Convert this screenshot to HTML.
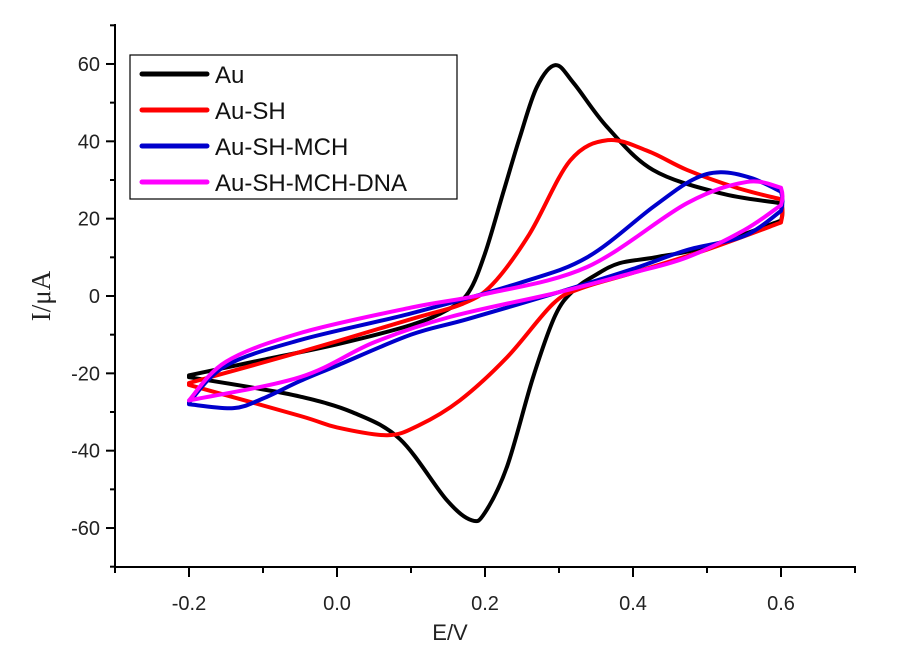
<!DOCTYPE html>
<html><head><meta charset="utf-8"><style>
body{margin:0;background:#fff;}
svg{display:block;}
text{font-family:"Liberation Sans",sans-serif;}
</style></head><body>
<svg id="s" width="900" height="647" viewBox="0 0 900 647" xmlns="http://www.w3.org/2000/svg">
<g id="curves" fill="none" stroke-width="4" stroke-linejoin="round" stroke-linecap="round"></g>
<g stroke="#000" stroke-width="2" fill="none">
<line x1="115" y1="24" x2="115" y2="568"/>
<line x1="114" y1="567" x2="856" y2="567"/>
</g>
<g id="ticks" stroke="#000" stroke-width="2"></g>
<g id="labels" font-size="20" fill="#222"></g>
<rect x="130" y="55" width="327" height="144" fill="#fff" stroke="#000" stroke-width="1.2"/>
<g stroke-width="5" stroke-linecap="round">
<line x1="142" y1="74" x2="207" y2="74" stroke="#000"/>
<line x1="142" y1="110" x2="207" y2="110" stroke="#f00"/>
<line x1="142" y1="146" x2="207" y2="146" stroke="#00c"/>
<line x1="142" y1="182" x2="207" y2="182" stroke="#f0f"/>
</g>
<g font-size="24" fill="#111">
<text x="215" y="83">Au</text>
<text x="215" y="119">Au-SH</text>
<text x="215" y="155">Au-SH-MCH</text>
<text x="215" y="191">Au-SH-MCH-DNA</text>
</g>
<text x="450" y="640" font-size="22" text-anchor="middle" fill="#222">E/V</text>
<text transform="translate(50,296) rotate(-90)" font-size="27" text-anchor="middle" fill="#222" style="font-family:'Liberation Serif',serif">I/μA</text>
</svg>
<script>
var X=function(e){return 337+e*740;},Y=function(i){return 296-i*3.867;};
var ns="http://www.w3.org/2000/svg";
var t=document.getElementById('ticks'),l=document.getElementById('labels');
function line(x1,y1,x2,y2){var e=document.createElementNS(ns,'line');e.setAttribute('x1',x1);e.setAttribute('y1',y1);e.setAttribute('x2',x2);e.setAttribute('y2',y2);t.appendChild(e);}
function txt(x,y,s,a){var e=document.createElementNS(ns,'text');e.setAttribute('x',x);e.setAttribute('y',y);e.setAttribute('text-anchor',a);e.textContent=s;l.appendChild(e);}
for(var v=-70;v<=70;v+=10){var y=Y(v);var maj=(v%20==0);line(115,y,maj?106:110,y);if(maj)txt(100,y+7,String(v),'end');}
for(var k=-3;k<=7;k++){var e=k/10,x=X(e);var maj=(k%2==0);line(x,567,x,maj?577:573);if(maj&&k>=-2&&k<=6)txt(x,610,(e.toFixed(1)),'middle');}
var data={
"#000":[[[-0.2,-20.5],[-0.1,-16.5],[0,-12.5],[0.1,-7.5],[0.15,-3.5],[0.178,1],[0.2,11],[0.225,27],[0.247,41],[0.27,54],[0.295,59.7],[0.32,55],[0.365,43.7],[0.427,32.6],[0.518,26.6],[0.6,24]],
        [[0.6,19.5],[0.5,12.7],[0.43,10],[0.382,8.5],[0.35,5.5],[0.32,1.5],[0.295,-5],[0.265,-21],[0.23,-44],[0.2,-56],[0.182,-58],[0.148,-52.7],[0.085,-37],[0.02,-30],[-0.05,-26],[-0.12,-23.5],[-0.2,-21]]],
"#f00":[[[-0.2,-22.5],[-0.05,-14.5],[0.1,-6],[0.17,-2],[0.21,3],[0.26,16],[0.315,35],[0.366,40.3],[0.42,37.5],[0.473,32.6],[0.54,28],[0.6,25]],
        [[0.6,19],[0.5,12],[0.4,6],[0.33,2],[0.292,-2],[0.23,-15.8],[0.166,-27],[0.11,-33.5],[0.068,-36],[0.0,-34],[-0.05,-31],[-0.2,-23]]],
"#00c":[[[-0.2,-27.5],[-0.15,-18],[-0.05,-11.4],[0.1,-4.5],[0.247,3.4],[0.338,10],[0.427,23],[0.48,30],[0.518,32],[0.56,30.5],[0.6,27]],
        [[0.6,22],[0.55,15.5],[0.473,11.9],[0.4,7],[0.3,1],[0.176,-6],[0.1,-10],[0,-18],[-0.05,-22],[-0.1,-26.5],[-0.14,-29],[-0.2,-28]]],
"#f0f":[[[-0.2,-27],[-0.15,-17],[-0.05,-9.6],[0.1,-3],[0.2,0.5],[0.338,7.5],[0.473,24],[0.554,29.5],[0.6,28]],
        [[0.6,23.5],[0.55,17],[0.473,10],[0.4,6],[0.3,1],[0.153,-5.4],[0.05,-12],[-0.05,-21],[-0.2,-27]]]};
var g=document.getElementById('curves');
function seg(pts){var p=pts.map(function(a){return [X(a[0]),Y(a[1])];});var d="";
for(var i=0;i<p.length-1;i++){var p0=p[i-1]||p[i],p1=p[i],p2=p[i+1],p3=p[i+2]||p2;
d+=" C"+(p1[0]+(p2[0]-p0[0])/6)+" "+(p1[1]+(p2[1]-p0[1])/6)+" "+(p2[0]-(p3[0]-p1[0])/6)+" "+(p2[1]-(p3[1]-p1[1])/6)+" "+p2[0]+" "+p2[1];}
return [p,d];}
for(var c in data){var a=seg(data[c][0]),b=seg(data[c][1]);
var d="M"+a[0][0][0]+" "+a[0][0][1]+a[1]+" Q"+(a[0][a[0].length-1][0]+3)+" "+((a[0][a[0].length-1][1]+b[0][0][1])/2)+" "+b[0][0][0]+" "+b[0][0][1]+b[1]+" Z";
var e=document.createElementNS(ns,'path');e.setAttribute('d',d);e.setAttribute('stroke',c);g.appendChild(e);}
</script>
</body></html>
